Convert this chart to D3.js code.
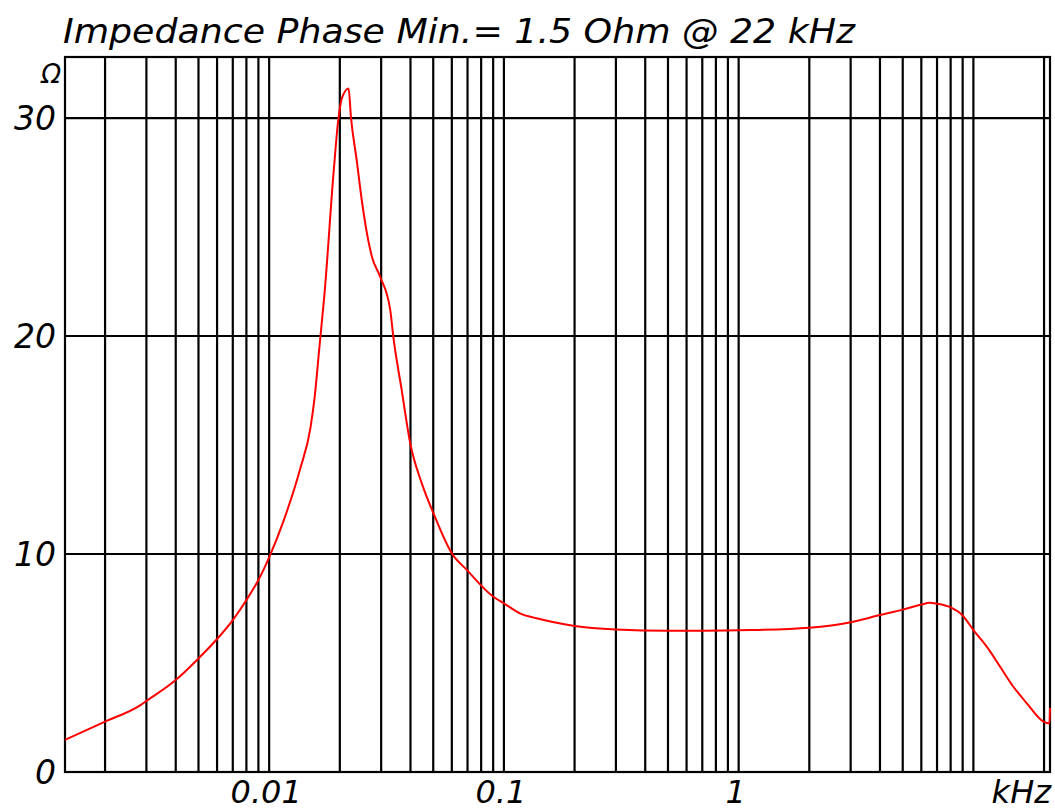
<!DOCTYPE html>
<html>
<head>
<meta charset="utf-8">
<script src="https://cdn.jsdelivr.net/npm/d3@7"></script>
<style>
  body { margin: 0; background: #fff; }
  text { font-family: "DejaVu Sans", sans-serif; font-style: italic; fill: #000; }
</style>
</head>
<body>
<svg width="1055" height="811"></svg>
<script>
// impedance curve (freq in kHz, value in ohm)
var freqs = [0.00135, 0.002, 0.00283, 0.003, 0.004, 0.005, 0.006, 0.007, 0.008, 0.009,
  0.01, 0.0115, 0.01355, 0.015, 0.01555, 0.01641, 0.01723, 0.0188, 0.0197, 0.0204,
  0.0218, 0.0223, 0.0236, 0.0248, 0.0261, 0.0274, 0.0297, 0.0328, 0.0338, 0.0367,
  0.0399, 0.0447, 0.0501, 0.060, 0.0695, 0.0902, 0.1, 0.117, 0.138, 0.2,
  0.3, 0.5, 0.7, 1.12, 2, 3, 4, 5, 6,
  6.5, 7, 8, 9, 10, 11.4, 13.0, 14.8, 16.9, 19.9, 21.1, 21.2];
var ohms = [1.47, 2.31, 3.07, 3.26, 4.22, 5.21, 6.10, 6.97, 7.89, 8.81,
  9.85, 11.5, 13.9, 15.8, 17.0, 19.6, 22.0, 27.46, 29.91, 30.90,
  31.36, 30.06, 28.07, 26.24, 24.71, 23.64, 22.72, 21.19, 19.97, 17.52,
  15.08, 13.24, 11.87, 10.03, 9.27, 8.04, 7.74, 7.28, 7.05, 6.70,
  6.54, 6.48, 6.48, 6.51, 6.62, 6.87, 7.20, 7.45, 7.68,
  7.76, 7.72, 7.55, 7.18, 6.51, 5.75, 4.83, 3.91, 3.15, 2.31, 2.23, 2.95];

var yTicks = [0, 10, 20, 30];
var xTicks = [0.01, 0.1, 1];
var xTickLabels = ['0.01', '0.1', '1'];
var title = 'Impedance Phase Min.= 1.5 Ohm @ 22 kHz';

var plotL = 65, plotR = 1050, plotT = 57, plotB = 772;

var x = d3.scaleLog().domain([0.00135, 21.2]).range([plotL, plotR]);
var y = d3.scaleLinear().domain([0, 32.8]).range([plotB, plotT]);

var svg = d3.select('svg');

// vertical grid: 1..9 per decade
var gridF = [];
[0.001, 0.01, 0.1, 1, 10].forEach(function(dec) {
  for (var k = 1; k < 10; k++) {
    var f = dec * k;
    if (f > x.domain()[0] && f < x.domain()[1]) gridF.push(f);
  }
});

svg.append('g')
  .selectAll('line')
  .data(gridF)
  .enter()
  .append('line')
  .attr('x1', d => x(d)).attr('x2', d => x(d))
  .attr('y1', plotT).attr('y2', plotB)
  .attr('stroke', '#000').attr('stroke-width', 2.2);

svg.append('g')
  .selectAll('line')
  .data(yTicks.slice(1))
  .enter()
  .append('line')
  .attr('x1', plotL).attr('x2', plotR)
  .attr('y1', d => y(d)).attr('y2', d => y(d))
  .attr('stroke', '#000').attr('stroke-width', 2.2);

svg.append('rect')
  .attr('x', plotL).attr('y', plotT)
  .attr('width', plotR - plotL).attr('height', plotB - plotT)
  .attr('fill', 'none').attr('stroke', '#000').attr('stroke-width', 2.2);

// the curve
var pts = freqs.map((f, i) => [f, ohms[i]]);
svg.append('path')
  .datum(pts)
  .attr('fill', 'none')
  .attr('stroke', '#ff0000')
  .attr('stroke-width', 2)
  .attr('d', d3.line().x(d => x(d[0])).y(d => y(d[1])).curve(d3.curveMonotoneX));

// labels
svg.append('g')
  .selectAll('text')
  .data(yTicks)
  .enter()
  .append('text')
  .attr('x', 56)
  .attr('y', d => y(d) + 12)
  .attr('text-anchor', 'end')
  .attr('font-size', 33)
  .text(d => d);

svg.append('text')
  .attr('x', 61).attr('y', 83)
  .attr('text-anchor', 'end')
  .attr('font-size', 26)
  .text('Ω');

svg.append('g')
  .selectAll('text')
  .data(xTicks)
  .enter()
  .append('text')
  .attr('x', d => x(d) - 3)
  .attr('y', 803)
  .attr('text-anchor', 'middle')
  .attr('font-size', 32)
  .text((d, i) => xTickLabels[i]);

svg.append('text')
  .attr('x', 1051).attr('y', 803)
  .attr('text-anchor', 'end')
  .attr('font-size', 32)
  .text('kHz');

svg.append('text')
  .attr('x', 63).attr('y', 43)
  .attr('font-size', 33)
  .attr('textLength', 792)
  .attr('lengthAdjust', 'spacingAndGlyphs')
  .text(title);
</script>
</body>
</html>
